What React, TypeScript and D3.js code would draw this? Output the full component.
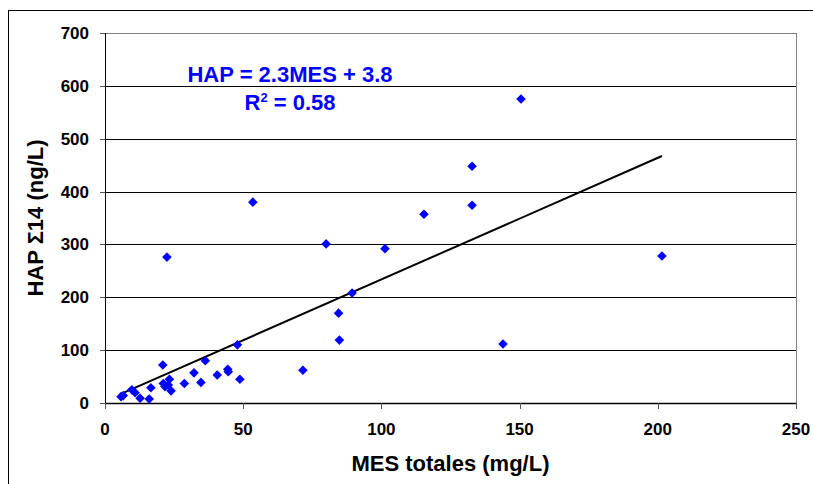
import React from "react";
import * as d3 from "d3";

const mesValues: number[] = [
  5.8, 6.6, 9.7, 10.9, 12.7, 16.0, 16.6, 20.9, 21.1, 21.7, 23.3, 23.9, 22.9,
  28.7, 32.2, 34.7, 36.3, 40.6, 44.4, 44.6, 48.8, 47.9, 71.6, 53.5, 22.4, 80.0,
  84.5, 84.8, 89.4, 101.3, 115.4, 132.8, 132.8, 144.0, 150.5, 201.5,
];
const hapValues: number[] = [
  12, 14, 25, 19.5, 9, 7.6, 29, 72, 37, 31, 45, 23, 34, 37, 57, 39, 80, 53, 64,
  59, 45, 110, 62, 380, 276, 301, 170, 119, 208, 292, 357, 448, 374, 111.5, 575,
  278,
];
const xTicks: number[] = [0, 50, 100, 150, 200, 250];
const yTicks: number[] = [0, 100, 200, 300, 400, 500, 600, 700];
const slope = 2.3;
const intercept = 3.8;
const equationLabel = "HAP = 2.3MES + 3.8";
const r2Value = "0.58";
const xTitle = "MES totales (mg/L)";
const yTitle = "HAP \u03a314 (ng/L)";

export default function App() {
  const W = 813;
  const H = 484;
  const left = 105;
  const right = 796;
  const top = 33;
  const bottom = 403;
  const x = d3.scaleLinear().domain([0, 250]).range([left, right]);
  const y = d3.scaleLinear().domain([0, 700]).range([bottom, top]);
  const font = "'Liberation Sans', Arial, sans-serif";
  const xMin = d3.min(mesValues) as number;
  const xMax = d3.max(mesValues) as number;
  const lineGen = d3
    .line<number>()
    .x((d) => x(d))
    .y((d) => y(slope * d + intercept));
  const sym = d3.symbol().type(d3.symbolSquare).size(46);
  const symPath = sym() as string;

  return (
    <svg
      width={W}
      height={H}
      style={{ position: "absolute", left: 0, top: 0, background: "#fff" }}
      fontFamily={font}
    >
      <rect x={0} y={0} width={W} height={H} fill="#fff" />
      <rect x={8.5} y={10.5} width={900} height={600} fill="none" stroke="#000" strokeWidth={1} />
      {yTicks.slice(1).map((t) => (
        <line
          key={"g" + t}
          x1={left}
          x2={right}
          y1={Math.round(y(t)) + 0.5}
          y2={Math.round(y(t)) + 0.5}
          stroke="#000"
          strokeWidth={1}
        />
      ))}
      <rect
        x={left + 0.5}
        y={Math.round(top) + 0.5}
        width={right - left}
        height={bottom - top}
        fill="none"
        stroke="#808080"
        strokeWidth={1}
      />
      <line x1={left + 0.5} x2={left + 0.5} y1={top} y2={bottom + 0.5} stroke="#000" strokeWidth={1} />
      <line x1={left} x2={right + 1} y1={bottom + 0.5} y2={bottom + 0.5} stroke="#000" strokeWidth={1.5} />
      {yTicks.map((t) => (
        <g key={"yt" + t}>
          <line
            x1={left - 5}
            x2={left}
            y1={Math.round(y(t)) + 0.5}
            y2={Math.round(y(t)) + 0.5}
            stroke="#555"
          />
          <text x={89} y={y(t) + 6} textAnchor="end" fontSize={17} fontWeight="bold">
            {t}
          </text>
        </g>
      ))}
      {xTicks.map((t) => (
        <g key={"xt" + t}>
          <line
            x1={Math.round(x(t)) + 0.5}
            x2={Math.round(x(t)) + 0.5}
            y1={bottom}
            y2={bottom + 6}
            stroke="#555"
          />
          <text x={x(t)} y={435} textAnchor="middle" fontSize={17} fontWeight="bold">
            {t}
          </text>
        </g>
      ))}
      <path d={lineGen([xMin, xMax]) as string} fill="none" stroke="#000" strokeWidth={2} />
      {mesValues.map((m, i) => (
        <path
          key={"p" + i}
          d={symPath}
          transform={`translate(${x(m)},${y(hapValues[i])}) rotate(45)`}
          fill="#0000FF"
        />
      ))}
      <text x={290} y={82} textAnchor="middle" fontSize={22} fontWeight="bold" fill="#0000FF">
        {equationLabel}
      </text>
      <text x={290} y={110} textAnchor="middle" fontSize={22} fontWeight="bold" fill="#0000FF">
        R<tspan dy={-8} fontSize={13}>2</tspan>
        <tspan dy={8}> = {r2Value}</tspan>
      </text>
      <text x={(left + right) / 2} y={471} textAnchor="middle" fontSize={22} fontWeight="bold">
        {xTitle}
      </text>
      <text
        transform={`translate(43,${(top + bottom) / 2}) rotate(-90)`}
        textAnchor="middle"
        fontSize={22}
        fontWeight="bold"
      >
        {yTitle}
      </text>
    </svg>
  );
}
